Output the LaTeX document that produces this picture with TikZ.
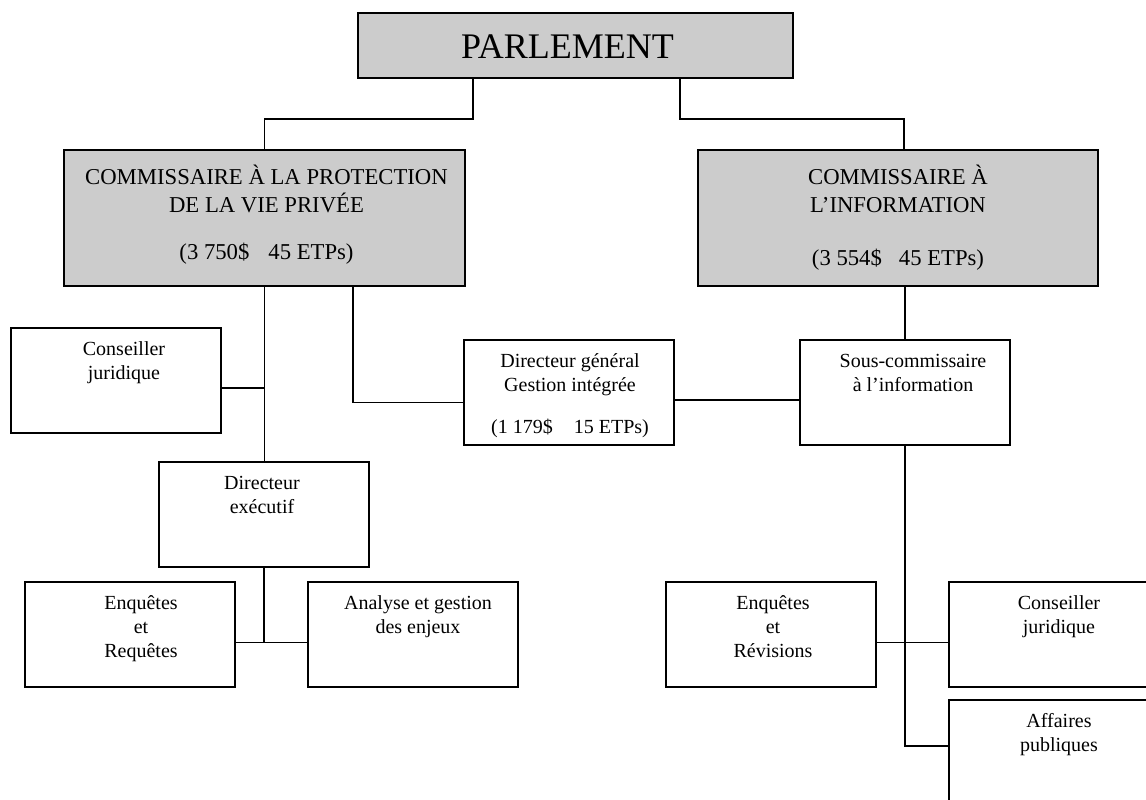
\documentclass[tikz,border=0pt]{standalone}
\usepackage{fontspec}
\setmainfont{Liberation Serif}
\definecolor{boxgray}{RGB}{204,204,204}
\newcommand\mystrutS{\rule{0pt}{18pt}}
\newcommand\mystrutC{\rule{0pt}{21pt}}
\begin{document}
\begin{tikzpicture}[x=1pt,y=-1pt,
  box/.style={draw, line width=1.8pt, inner sep=0pt, outer sep=0pt, anchor=north west,
              minimum width=210pt, minimum height=105pt},
  gbox/.style={box, fill=boxgray},
  stxt/.style={anchor=north, yshift=-9pt, inner sep=0pt, align=center,
               font=\fontsize{20}{24}\selectfont},
  ctxt/.style={anchor=north, yshift=-13.5pt, inner sep=0pt, align=center,
               font=\fontsize{22.7}{28}\selectfont},
  ptxt/.style={anchor=center, inner sep=0pt, xshift=-8pt, yshift=-1pt,
               font=\fontsize{36}{40}\selectfont},
  conn/.style={line width=1.8pt}]
\useasboundingbox (0,0) rectangle (1146,800);
\clip (0,0) rectangle (1146,800);

% top
\node[gbox, minimum width=435pt, minimum height=65pt,
      label={[ptxt]center:PARLEMENT}] (parl) at (358,13) {};

% commissioners
\node[gbox, minimum width=401pt, minimum height=136pt,
      label={[ctxt, xshift=2pt]north:{\mystrutC COMMISSAIRE À LA PROTECTION\\DE LA VIE PRIVÉE\\[19pt](3 750\$\hspace{19pt}45 ETPs)}}]
      (cpvp) at (64,150) {};
\node[gbox, minimum width=400pt, minimum height=136pt,
      label={[ctxt]north:{\mystrutC COMMISSAIRE À\\L’INFORMATION\\[25pt](3 554\$\hspace{17pt}45 ETPs)}}]
      (ci) at (698,150) {};

% left side
\node[box, label={[stxt, xshift=8pt]north:{\mystrutS Conseiller\\juridique}}] (cjl) at (11,328) {};
\node[box, label={[stxt, xshift=-2pt]north:{\mystrutS Directeur\\exécutif}}] (dexec) at (159,462) {};
\node[box, label={[stxt, xshift=11pt]north:{\mystrutS Enquêtes\\et\\Requêtes}}] (eq) at (25,582) {};
\node[box, label={[stxt, xshift=5pt]north:{\mystrutS Analyse et gestion\\des enjeux}}] (an) at (308,582) {};

% middle
\node[box, label={[stxt, xshift=1pt]north:{\mystrutS Directeur général\\Gestion intégrée\\[18pt](1 179\$\hspace{21pt}15 ETPs)}}] (dg) at (464,340) {};

% right side
\node[box, label={[stxt, xshift=8pt]north:{\mystrutS Sous-commissaire\\à l’information}}] (sous) at (800,340) {};
\node[box, label={[stxt, xshift=2pt]north:{\mystrutS Enquêtes\\et\\Révisions}}] (er) at (666,582) {};
\node[box, label={[stxt, xshift=5pt]north:{\mystrutS Conseiller\\juridique}}] (cjr) at (949,582) {};
\node[box, label={[stxt, xshift=5pt]north:{\mystrutS Affaires\\publiques}}] (aff) at (949,700) {};

% connectors
\draw[conn] ([xshift=115pt]parl.south west) |- ([yshift=31pt]cpvp.north) -- (cpvp.north);
\draw[conn] ([xshift=322pt]parl.south west) |- ([xshift=206pt,yshift=31pt]ci.north west) -- ([xshift=206pt]ci.north west);
\draw[conn] (cpvp.south) -- (cpvp.south |- dexec.north);
\draw[conn] ([yshift=-7.5pt]cjl.east) -- ([yshift=-7.5pt]cjl.east -| cpvp.south);
\draw[conn] ([xshift=289pt]cpvp.south west) |- ([yshift=-10pt]dg.west);
\draw[conn] ([yshift=-7.5pt]dg.east) -- ([yshift=-7.5pt]sous.west);
\draw[conn] (sous.north |- ci.south) -- (sous.north);
\draw[conn] (sous.south) |- ([yshift=6.5pt]aff.west);
\draw[conn] ([yshift=-8pt]er.east) -- ([yshift=-8pt]cjr.west);
\draw[conn] (dexec.south) |- ([yshift=-8pt]eq.east);
\draw[conn] ([yshift=-8pt]eq.east) -- ([yshift=-8pt]an.west);
\end{tikzpicture}
\end{document}
